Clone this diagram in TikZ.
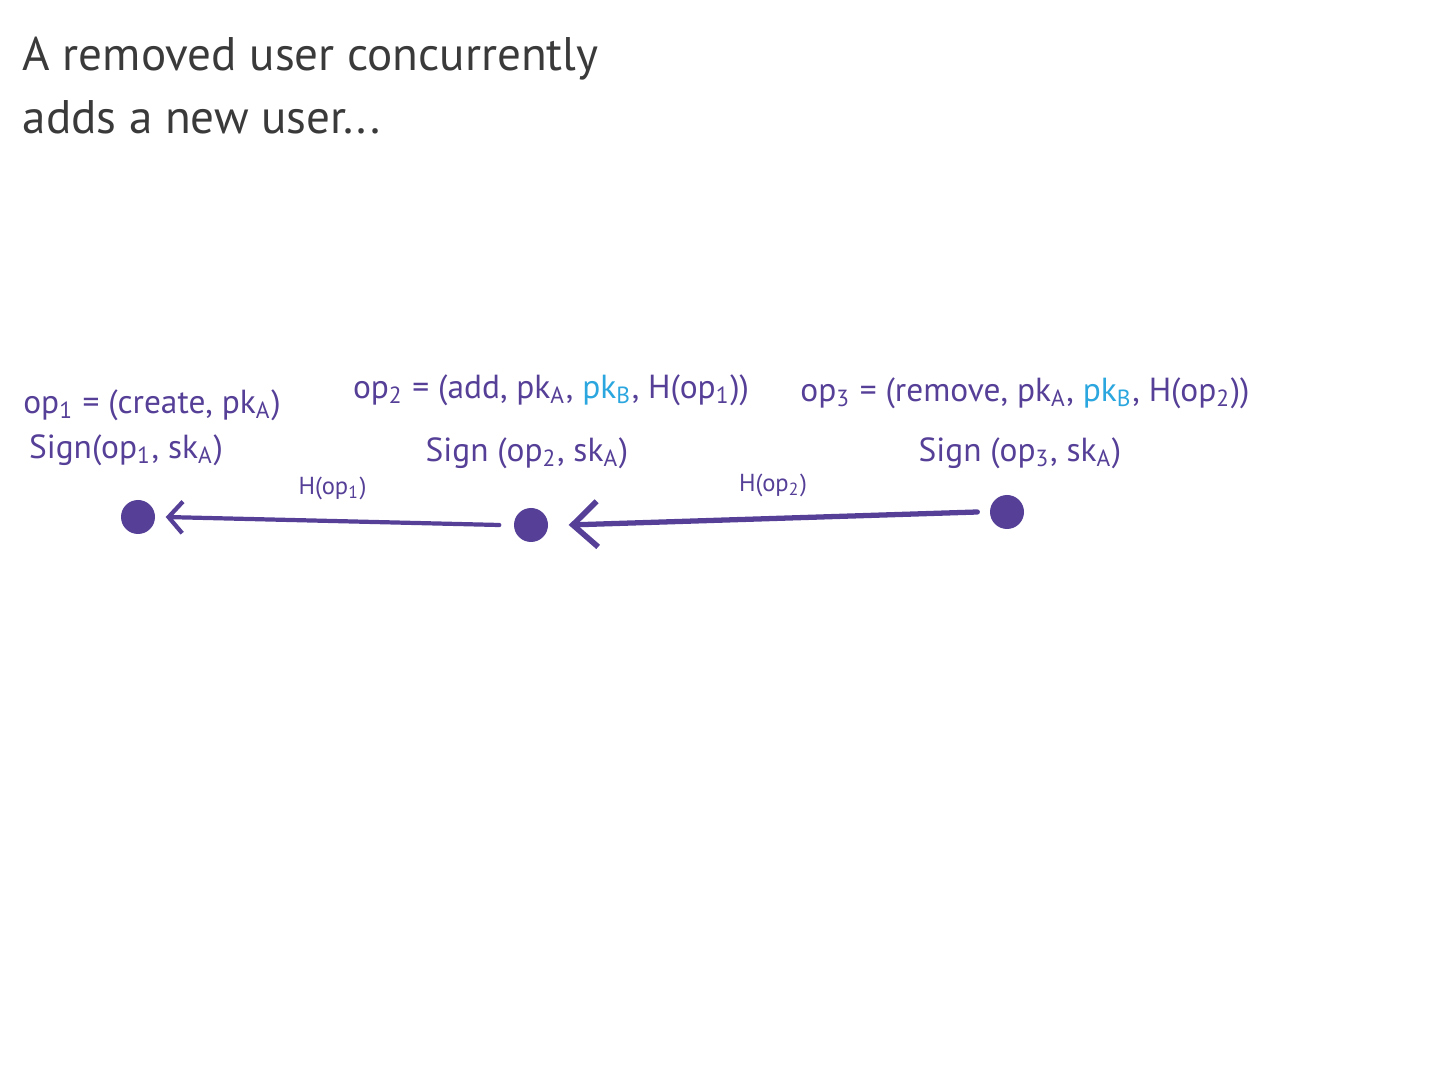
\documentclass[tikz,border=0pt]{standalone}
\usepackage{fontspec}
\setmainfont{PT Sans}
\usepackage{xcolor}
\usepackage{tikz}
\usetikzlibrary{positioning,arrows.meta}
\definecolor{inkpurple}{HTML}{553F97}
\definecolor{inkblue}{HTML}{2BA6DE}
\definecolor{inkgray}{HTML}{3A3A3A}

\begin{document}
\begin{tikzpicture}[
  opdot/.style    ={circle, fill=inkpurple, inner sep=0pt, minimum size=0.34cm},
  oplabel/.style  ={font=\fontsize{9.5}{12}\selectfont, text=inkpurple, inner sep=0pt},
  hashlink/.style ={draw=inkpurple, line width=1.2pt, line cap=round,
                    -{Straight Barb[length=4pt, width=9pt, line width=1.2pt]}},
  hashlabel/.style={font=\fontsize{7}{8}\selectfont, text=inkpurple, above=2pt},
]
% page: 1 cm = 100 px of the reference, y grows downwards
\useasboundingbox (0,0) rectangle (14.4,-10.8);
% title
\node[font=\fontsize{13.4}{18}\selectfont, text=inkgray, align=left, anchor=north west, inner sep=0pt]
  (title) at (0.22,-0.36) {A removed user concurrently\\adds a new user...};
% operations, oldest on the left
\node[opdot] (op1) at (1.38,-5.17) {};
\node[opdot] (op2) at (5.31,-5.25) {};
\node[opdot] (op3) at (10.07,-5.12) {};
% what each operation holds
\node[oplabel] (def1) at (1.52,-4.05) {op\textsubscript{1} = (create, pk\textsubscript{A})};
\node[oplabel] (sig1) at (1.26,-4.50) {Sign(op\textsubscript{1}, sk\textsubscript{A})};
\node[oplabel] (def2) at (5.51,-3.90) {op\textsubscript{2} = (add, pk\textsubscript{A}, {\color{inkblue}pk\textsubscript{B}}, H(op\textsubscript{1}))};
\node[oplabel] (sig2) at (5.27,-4.53) {Sign (op\textsubscript{2}, sk\textsubscript{A})};
\node[oplabel] (def3) at (10.25,-3.93) {op\textsubscript{3} = (remove, pk\textsubscript{A}, {\color{inkblue}pk\textsubscript{B}}, H(op\textsubscript{2}))};
\node[oplabel] (sig3) at (10.20,-4.53) {Sign (op\textsubscript{3}, sk\textsubscript{A})};
% hash links point back to the predecessor
\draw[hashlink] ([xshift=-0.14cm]op2.west) -- ([xshift=0.1cm]op1.east)
  node[midway, hashlabel] {H(op\textsubscript{1})};
\draw[hashlink, -{Straight Barb[length=7pt, width=13pt, line width=1.6pt]}, line width=1.5pt]
  ([xshift=-0.12cm]op3.west) -- ([xshift=0.2cm]op2.east)
  node[midway, hashlabel] {H(op\textsubscript{2})};
\end{tikzpicture}
\end{document}
